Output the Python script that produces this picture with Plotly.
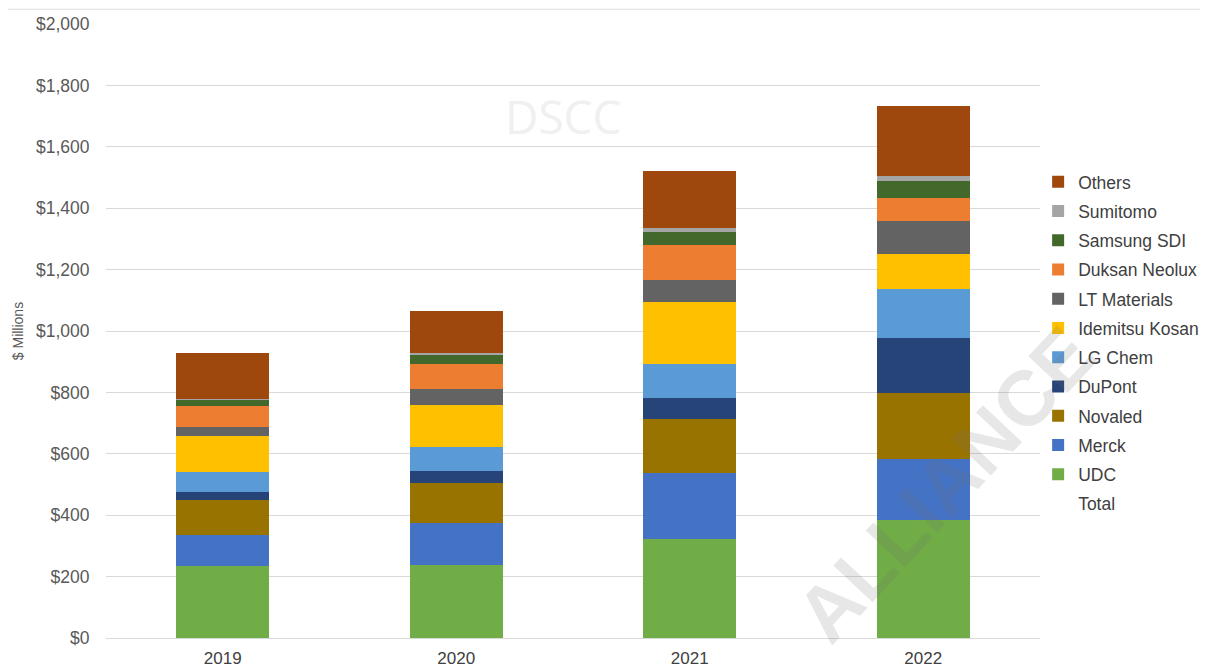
import plotly.graph_objects as go

years = ["2019", "2020", "2021", "2022"]

udc = [233, 237, 321, 384]
merck = [103, 139, 215, 199]
novaled = [112, 129, 178, 215]
dupont = [29, 40, 67, 180]
lg_chem = [63, 78, 112, 158]
idemitsu = [117, 137, 201, 116]
lt_materials = [30, 50, 72, 106]
duksan = [68, 83, 113, 76]
samsung_sdi = [21, 31, 42, 56]
sumitomo = [3, 4, 15, 15]
others = [148, 138, 186, 228]

series = [
    ("UDC", udc, "#70AD47"),
    ("Merck", merck, "#4472C4"),
    ("Novaled", novaled, "#997300"),
    ("DuPont", dupont, "#264478"),
    ("LG Chem", lg_chem, "#5B9BD5"),
    ("Idemitsu Kosan", idemitsu, "#FFC000"),
    ("LT Materials", lt_materials, "#636363"),
    ("Duksan Neolux", duksan, "#ED7D31"),
    ("Samsung SDI", samsung_sdi, "#43682B"),
    ("Sumitomo", sumitomo, "#A5A5A5"),
    ("Others", others, "#9E480E"),
]

totals = [sum(s[1][i] for s in series) for i in range(len(years))]

n = len(series)
fig = go.Figure()
for i, (name, vals, color) in enumerate(series):
    fig.add_trace(go.Bar(x=years, y=vals, name=name,
                         marker=dict(color=color, line=dict(width=0)),
                         legendgroup=f"g{n - i:02d}", legendrank=n - i))
# Total (invisible line, legend entry only)
fig.add_trace(go.Scatter(x=years, y=totals, name="Total", mode="lines",
                         line=dict(color="rgba(0,0,0,0)", width=0),
                         legendgroup="g99", legendrank=n + 1, hoverinfo="skip"))

font_family = "Liberation Sans, Arial, sans-serif"

# the page body adds an 8px offset, so the figure is 1200x660
fig.update_layout(
    barmode="stack",
    bargap=0.6,
    width=1200, height=660,
    margin=dict(l=98, r=168, t=16, b=30, autoexpand=False),
    paper_bgcolor="white", plot_bgcolor="white",
    font=dict(family=font_family, color="#595959", size=17.5),
    showlegend=True,
    legend=dict(
        x=0.998, xanchor="left", y=0.772, yanchor="top",
        traceorder="grouped", tracegroupgap=3.5,
        font=dict(size=17.5, color="#404040"),
        itemwidth=30,
        bgcolor="rgba(0,0,0,0)",
    ),
    xaxis=dict(showgrid=False, showline=False, ticks="outside", ticklen=5,
               tickcolor="rgba(0,0,0,0)", automargin=False,
               tickfont=dict(size=17, color="#404040")),
    yaxis=dict(range=[0, 2000], dtick=200, tickprefix="$", tickformat=",d",
               showgrid=True, gridcolor="#d9d9d9", gridwidth=1,
               zeroline=True, zerolinecolor="#d9d9d9", zerolinewidth=1,
               showline=False, ticks="outside", ticklen=12, tickcolor="rgba(0,0,0,0)",
               automargin=False,
               tickfont=dict(size=17.5, color="#595959")),
    annotations=[
        dict(text="$ Millions", x=-0.094, y=0.5, xref="paper", yref="paper",
             xanchor="center", yanchor="middle",
             textangle=-90, showarrow=False, font=dict(size=14, color="#595959")),
        dict(text="DSCC", x=0.49, y=0.85, xref="paper", yref="paper",
             xanchor="center", yanchor="middle",
             showarrow=False, font=dict(size=46, color="#f0f0f0", family="Open Sans, sans-serif")),
        dict(text="<b>ALLIANCE</b>", x=0.898, y=0.25, xref="paper", yref="paper",
             xanchor="center", yanchor="middle",
             textangle=-47, showarrow=False,
             font=dict(size=78, color="rgba(110,110,110,0.17)", family="Liberation Sans, Arial, sans-serif")),
    ],
    shapes=[
        dict(type="line", xref="paper", yref="paper", x0=-0.11, x1=1.18, y0=1.024, y1=1.024,
             line=dict(color="#dddddd", width=1)),
    ],
)

fig.write_html("out.html")
